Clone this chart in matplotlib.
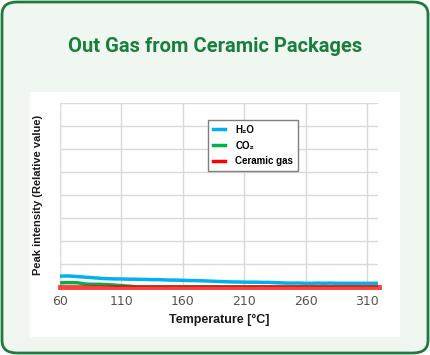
import numpy as np
import matplotlib.pyplot as plt
from matplotlib.patches import FancyBboxPatch, Rectangle
from matplotlib.lines import Line2D

# dados
temps = list(range(60, 321, 5))
h2o = [0.47, 0.48, 0.47, 0.45, 0.43, 0.41, 0.39, 0.37, 0.36, 0.35,
       0.35, 0.34, 0.34, 0.33, 0.33, 0.32, 0.32, 0.31, 0.30, 0.30,
       0.29, 0.28, 0.28, 0.27, 0.26, 0.25, 0.24, 0.23, 0.22, 0.22,
       0.21, 0.21, 0.21, 0.20, 0.20, 0.19, 0.18, 0.17, 0.17, 0.17,
       0.16, 0.16, 0.17, 0.16, 0.17, 0.16, 0.16, 0.16, 0.16, 0.16,
       0.16, 0.16, 0.16]
co2 = [0.18, 0.19, 0.19, 0.18, 0.13, 0.12, 0.12, 0.11, 0.10, 0.08,
       0.06, 0.04, 0.02] + [0.0] * 40
ceramic = [0.0] * 53
labels = ['H₂O', 'CO₂', 'Ceramic gas']
colors = ['#00b0f0', '#00b050', '#ff0000']
xticks = [60, 110, 160, 210, 260, 310]

W, H = 430, 355
fig = plt.figure(figsize=(W / 100, H / 100), dpi=100)
fig.patch.set_facecolor('white')

# fundo verde com borda arredondada
fig.patches.append(FancyBboxPatch((2 / W, 2 / H), (W - 4) / W, (H - 4) / H,
                                  boxstyle='round,pad=0,rounding_size=0.035',
                                  transform=fig.transFigure, facecolor='#f0f7f1',
                                  edgecolor='#1e7b3c', linewidth=2, zorder=0))
# painel branco
fig.patches.append(Rectangle((30 / W, (H - 337) / H), 370 / W, 245 / H,
                             transform=fig.transFigure, facecolor='white',
                             edgecolor='none', zorder=1))

fig.text(0.5, (H - 47) / H, 'Out Gas from Ceramic Packages', ha='center', va='center',
         fontsize=14.5, fontweight='bold', color='#1a7f3c', family=['Roboto', 'DejaVu Sans'])

ax = fig.add_axes([60 / W, (H - 287) / H, 318 / W, 184 / H])
ax.set_facecolor('none')
ax.set_zorder(2)

ax.plot(temps, h2o, color=colors[0], lw=2.5, zorder=3)
ax.plot(temps, co2, color=colors[1], lw=2.5, zorder=3)
ax.plot(temps, ceramic, color=colors[2], lw=3.5, alpha=0.75, zorder=4, clip_on=False)

ax.set_xlim(60, 319)
ax.set_ylim(0, 8)
ax.set_xticks(xticks)
ax.set_yticks(range(0, 9))
ax.set_yticklabels([])
ax.grid(True, color='#d9d9d9', lw=1)
ax.tick_params(length=0, labelsize=9, labelcolor='#5e5247', pad=6)
for s in ax.spines.values():
    s.set_visible(False)

ax.set_xlabel('Temperature [°C]', fontsize=9, fontweight='bold', family='Liberation Sans',
              color='#1a1a1a', labelpad=4)
ax.set_ylabel('Peak intensity (Relative value)', fontsize=8, fontweight='bold',
              family='Liberation Sans', color='#1a1a1a', labelpad=6)

handles = [Line2D([0], [0], color=c, lw=2.5) for c in colors]
leg = ax.legend(handles, labels, loc='upper left', bbox_to_anchor=(0.45, 0.935),
                fancybox=False, edgecolor='#7f7f7f', framealpha=1, handlelength=1.3,
                prop={'family': 'Liberation Sans', 'weight': 'bold', 'size': 7},
                borderpad=0.5, labelspacing=0.6, handletextpad=1.0)
leg.get_frame().set_linewidth(1)

fig.savefig('out.png', dpi=100)
